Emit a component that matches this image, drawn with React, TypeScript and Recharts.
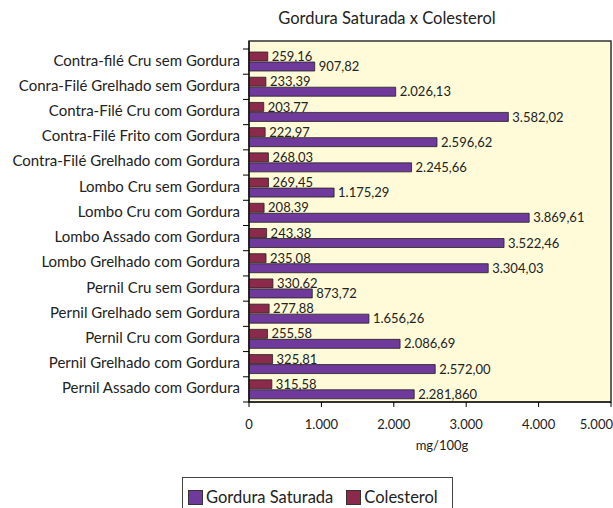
import { BarChart, Bar, XAxis, YAxis, CartesianGrid, LabelList, usePlotArea } from 'recharts'

const categories = [
  'Contra-filé Cru sem Gordura',
  'Conra-Filé Grelhado sem Gordura',
  'Contra-Filé Cru com Gordura',
  'Contra-Filé Frito com Gordura',
  'Contra-Filé Grelhado com Gordura',
  'Lombo Cru sem Gordura',
  'Lombo Cru com Gordura',
  'Lombo Assado com Gordura',
  'Lombo Grelhado com Gordura',
  'Pernil Cru sem Gordura',
  'Pernil Grelhado sem Gordura',
  'Pernil Cru com Gordura',
  'Pernil Grelhado com Gordura',
  'Pernil Assado com Gordura',
]

// maroon bars (top of each pair)
const colesterol = [259.16, 233.39, 203.77, 222.97, 268.03, 269.45, 208.39, 243.38, 235.08, 330.62, 277.88, 255.58, 325.81, 315.58]

// purple bars (bottom of each pair)
const gordura = [907.82, 2026.13, 3582.02, 2596.62, 2245.66, 1175.29, 3869.61, 3522.46, 3304.03, 873.72, 1656.26, 2086.69, 2572.0, 2281.86]
const gorduraLabels = ['907,82', '2.026,13', '3.582,02', '2.596,62', '2.245,66', '1.175,29', '3.869,61', '3.522,46', '3.304,03', '873,72', '1.656,26', '2.086,69', '2.572,00', '2.281,860']

const xTicks = [0, 1000, 2000, 3000, 4000, 5000]

const PURPLE = '#6f3a9b'
const MAROON = '#8c2a4c'
const FONT = 'Lato, "Open Sans", sans-serif'
const TEXT = '#222'

const PLOT_LEFT = 249
const PLOT_TOP = 41
const PAD_TOP = 8
const PLOT_BOTTOM = 402
const BAND = (PLOT_BOTTOM - PLOT_TOP - PAD_TOP) / categories.length

const fmt = (v: number) => {
  const [i, d] = v.toFixed(2).split('.')
  return i.replace(/\B(?=(\d{3})+(?!\d))/g, '.') + ',' + d
}
const fmtTick = (v: number) => String(v).replace(/\B(?=(\d{3})+(?!\d))/g, '.')

const chartData = categories.map((name, i) => ({
  name,
  colesterol: colesterol[i],
  gordura: gordura[i],
  cLabel: fmt(colesterol[i]),
  gLabel: gorduraLabels[i],
}))

const YTick = (props: any) => {
  const { y, payload, index } = props
  return (
    <g>
      <text x={PLOT_LEFT - 9} y={y - 2} textAnchor="end" dominantBaseline="central" fontSize={15} fontFamily={FONT} fill={TEXT}>
        {payload.value}
      </text>
      <line x1={PLOT_LEFT - 6} x2={PLOT_LEFT} y1={y - BAND / 2} y2={y - BAND / 2} stroke="#000" />
      {index === categories.length - 1 && (
        <line x1={PLOT_LEFT - 6} x2={PLOT_LEFT} y1={y + BAND / 2} y2={y + BAND / 2} stroke="#000" />
      )}
    </g>
  )
}

const PlotBorder = () => {
  const area = usePlotArea()
  if (!area) return null
  return <rect x={area.x} y={area.y} width={area.width} height={area.height} fill="none" stroke="#333" strokeWidth={1.5} />
}

const LegendBox = () => (
  <div
    style={{
      position: 'absolute',
      left: 182,
      top: 477,
      width: 271,
      height: 40,
      border: '1px solid #444',
      boxSizing: 'border-box',
      fontFamily: FONT,
      fontSize: 16.5,
      color: TEXT,
      display: 'flex',
      alignItems: 'flex-start',
      paddingTop: 11,
      paddingLeft: 5,
    }}
  >
    {[
      { label: 'Gordura Saturada', color: PURPLE },
      { label: 'Colesterol', color: MAROON },
    ].map((item) => (
      <div key={item.label} style={{ display: 'flex', alignItems: 'center', marginRight: 13 }}>
        <span style={{ width: 15, height: 15, background: item.color, border: '1px solid #333', boxSizing: 'border-box', marginRight: 3 }} />
        <span style={{ lineHeight: '17px' }}>{item.label}</span>
      </div>
    ))}
  </div>
)

export default function App() {
  return (
    <div style={{ position: 'absolute', left: 0, top: 0, width: 613, height: 508, background: '#fff', overflow: 'hidden' }}>
      <div
        style={{
          position: 'absolute',
          left: 237,
          top: 8,
          width: 300,
          textAlign: 'center',
          fontFamily: FONT,
          fontSize: 16.5,
          color: TEXT,
        }}
      >
        Gordura Saturada x Colesterol
      </div>
      <BarChart
        width={613}
        height={470}
        data={chartData}
        layout="vertical"
        margin={{ top: PLOT_TOP, right: 2, bottom: 28, left: 0 }}
        barSize={9}
        barGap={1}
      >
        <CartesianGrid fill="#fffad7" horizontal={false} vertical={false} />
        <XAxis
          type="number"
          domain={[0, 5000]}
          ticks={xTicks}
          tickFormatter={fmtTick}
          height={40}
          stroke="#000"
          tickSize={5}
          tickMargin={13}
          tick={{ fontSize: 13, fontFamily: FONT, fill: TEXT }}
          label={{ value: 'mg/100g', position: 'bottom', offset: -1, dx: 12, fontSize: 13, fontFamily: FONT, fill: TEXT }}
        />
        <YAxis
          type="category"
          dataKey="name"
          width={PLOT_LEFT}
          stroke="#000"
          tickLine={false}
          padding={{ top: PAD_TOP, bottom: 0 }}
          interval={0}
          tick={<YTick />}
        />
        <PlotBorder />
        <Bar dataKey="colesterol" fill={MAROON} stroke="#222" strokeWidth={0.8} isAnimationActive={false}>
          <LabelList dataKey="cLabel" position="right" offset={4} style={{ fontSize: 13, fontFamily: FONT, fill: TEXT }} />
        </Bar>
        <Bar dataKey="gordura" fill={PURPLE} stroke="#222" strokeWidth={0.8} isAnimationActive={false}>
          <LabelList dataKey="gLabel" position="right" offset={4} style={{ fontSize: 13, fontFamily: FONT, fill: TEXT }} />
        </Bar>
      </BarChart>
      <LegendBox />
    </div>
  )
}
